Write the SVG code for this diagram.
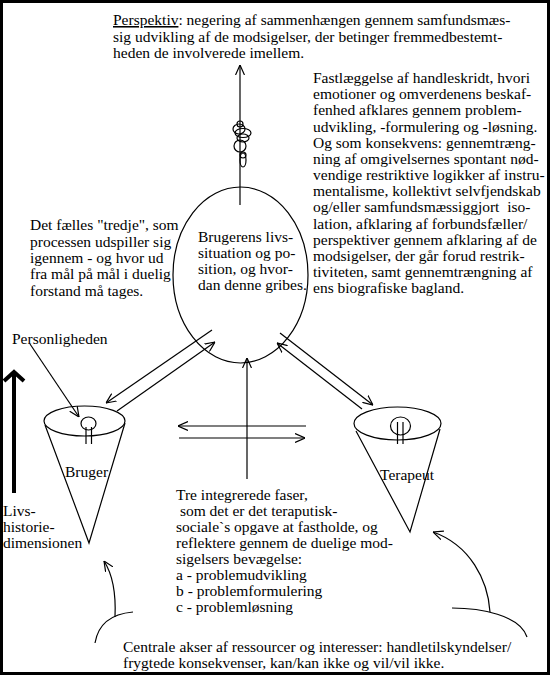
<svg xmlns="http://www.w3.org/2000/svg" width="550" height="675" viewBox="0 0 550 675">
<defs>
<style>
text{font-family:"Liberation Serif","Times New Roman",serif;font-size:15.5px;fill:#000}
.l{stroke:#000;stroke-width:1.2;fill:none}
.a{stroke:#000;stroke-width:1.2;fill:none;marker-end:url(#ah)}
</style>
<marker id="ah" viewBox="0 0 10 10" refX="10" refY="5" markerWidth="10" markerHeight="10" markerUnits="userSpaceOnUse" orient="auto">
<path d="M0,0.5 L10,5 L0,9.5" fill="none" stroke="#000" stroke-width="1.2"/>
</marker>
</defs>
<rect x="0" y="0" width="550" height="675" fill="#fff"/>
<rect x="1.5" y="1.5" width="547" height="672" fill="none" stroke="#000" stroke-width="3"/>

<g id="perspektiv">
<text x="113" y="25"><tspan text-decoration="underline">Perspektiv</tspan>: negering af sammenhængen gennem samfundsmæs-</text>
<text x="113" y="42">sig udvikling af de modsigelser, der betinger fremmedbestemt-</text>
<text x="113" y="58">heden de involverede imellem.</text>
</g>

<g id="fastlaeggelse">
<text x="313" y="83">Fastlæggelse af handleskridt, hvori</text>
<text x="313" y="99">emotioner og omverdenens beskaf-</text>
<text x="313" y="115">fenhed afklares gennem problem-</text>
<text x="313" y="131.5">udvikling, -formulering og -løsning.</text>
<text x="313" y="147.5">Og som konsekvens: gennemtræng-</text>
<text x="313" y="164">ning af omgivelsernes spontant nød-</text>
<text x="313" y="180">vendige restriktive logikker af instru-</text>
<text x="313" y="196">mentalisme, kollektivt selvfjendskab</text>
<text x="313" y="212" xml:space="preserve">og/eller samfundsmæssiggjort  iso-</text>
<text x="313" y="228.5">lation, afklaring af forbundsfæller/</text>
<text x="313" y="244.5">perspektiver gennem afklaring af de</text>
<text x="313" y="261">modsigelser, der går forud restrik-</text>
<text x="313" y="277">tiviteten, samt gennemtrængning af</text>
<text x="313" y="293">ens biografiske bagland.</text>
</g>

<g id="tredje">
<text x="30" y="230">Det fælles "tredje", som</text>
<text x="30" y="247">processen udspiller sig</text>
<text x="30" y="263">igennem - og hvor ud</text>
<text x="30" y="279">fra mål på mål i duelig</text>
<text x="30" y="296">forstand må tages.</text>
</g>

<g id="brugerens-situation">
<ellipse cx="240.5" cy="275" rx="67.5" ry="88" class="l"/>
<text x="198" y="242">Brugerens livs-</text>
<text x="198" y="258">situation og po-</text>
<text x="198" y="274">sition, og hvor-</text>
<text x="198" y="290">dan denne gribes.</text>
</g>

<g id="perlekaede">
<circle cx="240" cy="124" r="3" class="l"/>
<ellipse cx="239" cy="129" rx="6" ry="5" class="l"/>
<ellipse cx="243" cy="133" rx="8" ry="4.5" class="l"/>
<ellipse cx="243" cy="138" rx="6" ry="4" class="l"/>
<circle cx="240" cy="146" r="6" class="l"/>
<ellipse cx="243" cy="155" rx="3" ry="3" class="l"/>
<ellipse cx="243" cy="160" rx="3" ry="7" class="l"/>
</g>

<g id="personligheden">
<text x="12" y="344">Personligheden</text>
</g>

<g id="bruger">
<ellipse cx="84.5" cy="421" rx="40.5" ry="15" class="l"/>
<polyline points="45,425 89,543 125,423" class="l"/>
<ellipse cx="88.5" cy="423.5" rx="7.5" ry="6.5" class="l"/>
<line x1="86" y1="427" x2="86" y2="444" class="l"/>
<line x1="91.5" y1="427" x2="91.5" y2="444" class="l"/>
<text x="65" y="477">Bruger</text>
</g>

<g id="terapeut">
<ellipse cx="397.5" cy="423.5" rx="43.5" ry="16.5" class="l"/>
<polyline points="356,431 410,532 440,429" class="l"/>
<ellipse cx="400.5" cy="426" rx="10" ry="9" class="l"/>
<line x1="397.5" y1="422" x2="397.5" y2="444" class="l"/>
<line x1="403" y1="422" x2="403" y2="444" class="l"/>
<text x="380" y="480">Terapeut</text>
</g>

<g id="livshistorie">
<line x1="14" y1="493" x2="14" y2="373" stroke="#000" stroke-width="4"/>
<path d="M4,381 L14,372 L24,381" fill="none" stroke="#000" stroke-width="4"/>
<text x="3" y="516">Livs-</text>
<text x="3" y="532">historie-</text>
<text x="3" y="548">dimensionen</text>
</g>

<g id="faser">
<text x="176" y="500">Tre integrerede faser,</text>
<text x="176" y="516" xml:space="preserve"> som det er det teraputisk-</text>
<text x="176" y="532">sociale`s opgave at fastholde, og</text>
<text x="176" y="548">reflektere gennem de duelige mod-</text>
<text x="176" y="564">sigelsers bevægelse:</text>
<text x="176" y="580">a - problemudvikling</text>
<text x="176" y="596">b - problemformulering</text>
<text x="176" y="612">c - problemløsning</text>
</g>

<g id="centrale-akser">
<text x="123" y="652">Centrale akser af ressourcer og interesser: handletilskyndelser/</text>
<text x="123" y="668">frygtede konsekvenser, kan/kan ikke og vil/vil ikke.</text>
</g>

<g id="connectors">
<line x1="240" y1="205" x2="240" y2="65" class="a"/>
<line x1="212" y1="330" x2="106" y2="403" class="a"/>
<line x1="117" y1="411" x2="215" y2="342" class="a"/>
<line x1="280" y1="333" x2="373" y2="405" class="a"/>
<line x1="362" y1="409" x2="277" y2="343" class="a"/>
<line x1="247" y1="479" x2="247" y2="358" class="a"/>
<line x1="306" y1="426" x2="178" y2="426" class="a"/>
<line x1="179" y1="438" x2="305" y2="438" class="a"/>
<line x1="30" y1="344" x2="79" y2="417" class="a"/>
<path d="M115,617 C116,595 113,575 104,561" class="a"/>
<path d="M95,643 C98,625 110,614 133,612" class="l"/>
<path d="M490,612 C488,580 470,545 433,532" class="a"/>
<path d="M452,608 C480,608 520,615 527,637" class="l"/>
</g>
</svg>
